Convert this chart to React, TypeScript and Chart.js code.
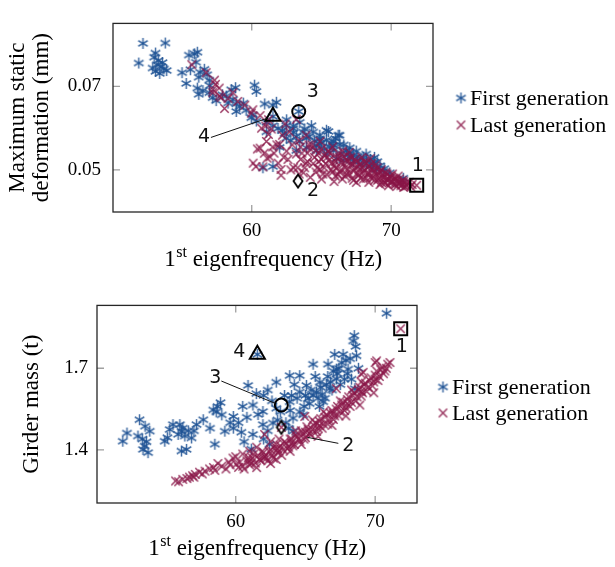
import React, { useEffect, useRef } from "react";
import { Chart, registerables } from "chart.js";
Chart.register(...registerables);

type Pt = [number, number];

// ---------- data ----------
const freqMin = 50.05;
const freqMax = 73;
const freqTicks = [60, 70];

const deformMin = 0.0399;
const deformMax = 0.0851;
const deformTicks = [0.05, 0.07];

const massMin = 1.205;
const massMax = 1.931;
const massTicks = [1.4, 1.7];

const legendLabels = ["First generation", "Last generation"];
const highlightLabels = ["1", "2", "3", "4"];

// top: 1st eigenfrequency (Hz) vs maximum static deformation (mm)
const deformFirstGen: Pt[] = [
  [52.2, 0.0803], [53.8, 0.0804], [51.9, 0.0756], [53.1, 0.078], [53.0, 0.077], [53.3, 0.0762],
  [53.2, 0.0752], [52.9, 0.0744], [53.5, 0.0748], [53.7, 0.0742], [53.1, 0.0736], [53.9, 0.0738],
  [53.4, 0.0731], [53.6, 0.0757], [55.0, 0.0733], [55.3, 0.0707], [55.5, 0.0775], [56.1, 0.0782],
  [55.9, 0.0778], [56.2, 0.0722], [56.6, 0.0741], [56.0, 0.0758], [56.95, 0.0715], [56.1, 0.0696],
  [56.2, 0.0681], [57.2, 0.0673], [56.3, 0.0734], [55.6, 0.074], [56.8, 0.0728], [57.0, 0.0702],
  [56.5, 0.069], [57.45, 0.0666], [56.97, 0.0685], [58.17, 0.0677], [58.65, 0.0669], [58.89, 0.0658],
  [59.13, 0.0651], [59.6, 0.0643], [60.08, 0.0632], [60.33, 0.0617], [58.89, 0.064], [58.53, 0.0692],
  [58.84, 0.0697], [57.9, 0.068], [58.3, 0.066], [59.4, 0.066], [60.2, 0.0703], [60.33, 0.0688],
  [60.93, 0.0658], [61.77, 0.0662], [61.52, 0.0655], [59.97, 0.0625], [61.05, 0.0614], [61.05, 0.0591],
  [61.52, 0.0606], [61.88, 0.0599], [62.36, 0.0587], [62.48, 0.0606], [62.96, 0.0599], [63.44, 0.0614],
  [63.2, 0.058], [63.68, 0.0591], [63.92, 0.0576], [64.4, 0.0591], [64.28, 0.0606], [63.44, 0.0568],
  [64.88, 0.0561], [65.36, 0.0572], [65.84, 0.0568], [66.32, 0.0561], [65.84, 0.0546], [66.8, 0.0546],
  [67.27, 0.0535], [67.03, 0.0553], [67.75, 0.0523], [68.23, 0.052], [68.71, 0.0516], [68.47, 0.0508],
  [68.95, 0.0501], [66.56, 0.0523], [66.08, 0.0527], [65.36, 0.0538], [64.64, 0.0546], [63.92, 0.0553],
  [63.2, 0.0546], [62.0, 0.0554], [61.52, 0.0508], [60.8, 0.0505], [65.5, 0.0592], [66.3, 0.0583],
  [70.87, 0.048], [69.43, 0.0497], [69.9, 0.0493], [64.88, 0.0583], [62.48, 0.0576], [63.37, 0.064],
  [61.52, 0.0628], [65.36, 0.0595], [66.2, 0.0583], [65.0, 0.0565], [65.6, 0.0555], [66.0, 0.0575],
  [66.6, 0.056], [67.0, 0.054], [67.5, 0.0545], [68.0, 0.053], [68.5, 0.0525], [69.2, 0.051],
  [69.5, 0.0503], [67.9, 0.0512], [67.3, 0.052], [64.5, 0.057], [64.1, 0.058], [63.0, 0.059],
  [62.8, 0.057], [62.2, 0.0595], [65.2, 0.055], [64.6, 0.0558], [66.4, 0.054], [65.9, 0.0558],
  [67.1, 0.0528], [68.8, 0.053], [69.0, 0.052], [68.2, 0.0538], [62.5, 0.062], [63.0, 0.0605],
  [63.8, 0.0598], [64.9, 0.0575], [65.7, 0.0563], [66.9, 0.0537], [67.6, 0.0532], [68.6, 0.0512],
];

const deformLastGen: Pt[] = [
  [55.7, 0.0752], [56.73, 0.0733], [57.33, 0.0715], [57.4, 0.0705], [57.2, 0.0685], [57.21, 0.0692],
  [57.67, 0.0696], [57.8, 0.0673], [57.69, 0.0677], [58.05, 0.0647], [58.65, 0.0685], [58.3, 0.0671],
  [59.0, 0.0664], [59.5, 0.0655], [59.97, 0.0636], [60.08, 0.0644], [60.6, 0.063], [61.2, 0.062],
  [61.0, 0.0605], [61.4, 0.0598], [60.7, 0.06], [61.2, 0.0585],
  [60.3, 0.0508], [60.1, 0.0516], [60.8, 0.0507], [60.4, 0.055], [60.6, 0.0552], [61.05, 0.0568],
  [61.1, 0.0528], [61.3, 0.0531], [61.6, 0.054], [61.8, 0.056], [61.9, 0.0516], [62.1, 0.0501],
  [62.1, 0.0487], [62.0, 0.0561], [62.2, 0.0583], [62.4, 0.061], [62.5, 0.0545], [62.6, 0.0525],
  [62.7, 0.0591], [62.9, 0.056], [63.0, 0.0505], [63.2, 0.0538], [63.2, 0.0621], [63.4, 0.057],
  [63.7, 0.0493], [63.9, 0.0583], [63.9, 0.0516], [64.2, 0.0482], [64.6, 0.0546], [64.9, 0.0501],
  [63.5, 0.0525], [64.0, 0.054], [63.3, 0.0505], [63.5, 0.0555], [64.1, 0.056],
  [64.3, 0.056], [64.5, 0.053], [64.8, 0.052], [64.9, 0.0568], [65.0, 0.055], [65.1, 0.049],
  [65.2, 0.0535], [64.7, 0.0505], [65.3, 0.0515], [65.0, 0.0478],
  [65.5, 0.0545], [65.6, 0.0525], [65.7, 0.05], [65.8, 0.0555], [65.9, 0.051], [66.0, 0.0485],
  [66.1, 0.053], [66.2, 0.054], [66.3, 0.0495], [66.4, 0.0518], [66.5, 0.0478], [65.9, 0.0472],
  [66.6, 0.0532], [66.7, 0.0505], [66.8, 0.049], [66.9, 0.052], [67.0, 0.0542], [67.1, 0.051],
  [67.2, 0.048], [67.3, 0.0497], [67.4, 0.0525], [67.5, 0.047], [67.6, 0.0508], [67.7, 0.0488],
  [67.8, 0.0515], [67.9, 0.053], [68.0, 0.0478],
  [68.1, 0.05], [68.2, 0.0515], [68.3, 0.049], [68.4, 0.047], [68.5, 0.0527], [68.6, 0.0505],
  [68.7, 0.0483], [68.8, 0.0495], [68.9, 0.0512], [69.0, 0.0475], [69.1, 0.049], [69.2, 0.0465],
  [69.3, 0.05], [69.4, 0.0482], [69.5, 0.047], [69.6, 0.0493], [69.7, 0.0476], [69.8, 0.0462],
  [69.9, 0.0485], [70.0, 0.0472],
  [70.1, 0.049], [70.2, 0.0466], [70.3, 0.0478], [70.4, 0.046], [70.5, 0.0485], [70.6, 0.047],
  [70.7, 0.0462], [70.8, 0.0475], [70.9, 0.0458], [71.0, 0.0468], [71.1, 0.0462], [71.3, 0.047],
  [71.5, 0.0465], [71.83, 0.0463],
  [64.2, 0.055], [64.4, 0.0515], [64.6, 0.0495], [64.8, 0.054], [65.0, 0.0525], [65.2, 0.0505],
  [65.4, 0.053], [65.4, 0.0488], [65.6, 0.054], [65.7, 0.0515], [65.8, 0.0495], [66.0, 0.052],
  [66.1, 0.0505], [66.2, 0.0488], [66.3, 0.053], [66.4, 0.05], [66.5, 0.0545], [66.6, 0.0515],
  [66.7, 0.0485], [66.8, 0.0525], [66.9, 0.05], [67.0, 0.049], [67.1, 0.053], [67.2, 0.0515],
  [67.3, 0.0475], [67.4, 0.0505], [67.5, 0.052], [67.6, 0.049], [67.7, 0.05], [67.8, 0.048],
  [67.9, 0.0505], [68.0, 0.0495], [68.1, 0.052], [68.2, 0.048], [68.3, 0.0505], [68.4, 0.0492],
  [68.5, 0.0482], [68.6, 0.0515], [68.7, 0.0498], [68.8, 0.0475], [68.9, 0.049], [69.0, 0.0505],
  [69.1, 0.0478], [69.2, 0.0495], [69.3, 0.047], [69.4, 0.049], [69.5, 0.0482], [69.6, 0.0468],
  [69.7, 0.049], [69.8, 0.0478], [69.9, 0.047], [70.0, 0.0482], [70.1, 0.0472], [70.2, 0.048],
  [70.3, 0.0465], [70.4, 0.0475], [70.5, 0.0468], [70.6, 0.0478], [70.7, 0.047], [70.8, 0.0465],
  [70.9, 0.0472], [71.0, 0.046], [71.2, 0.0467], [71.4, 0.046], [63.6, 0.054], [63.8, 0.0505],
  [64.0, 0.052], [63.4, 0.049], [62.8, 0.05], [62.3, 0.053], [61.5, 0.0555], [60.9, 0.054],
];

const deformHighlights: Pt[] = [
  [71.83, 0.0463], [63.32, 0.0473], [63.37, 0.064], [61.52, 0.0628],
];

// bottom: 1st eigenfrequency (Hz) vs girder mass (t)
const massFirstGen: Pt[] = [
  [51.9, 1.432], [52.2, 1.462], [53.1, 1.511], [53.5, 1.487], [52.99, 1.451], [53.83, 1.469],
  [53.47, 1.414], [53.71, 1.39], [53.35, 1.402], [53.3, 1.44], [53.6, 1.43], [54.91, 1.432],
  [55.27, 1.475], [56.11, 1.469], [55.99, 1.493], [56.35, 1.451], [56.83, 1.444], [56.11, 1.396],
  [56.47, 1.402], [57.19, 1.493], [57.67, 1.511], [58.39, 1.547], [58.91, 1.574], [58.5, 1.421],
  [59.22, 1.469], [59.83, 1.523], [59.83, 1.48], [58.15, 1.48], [59.0, 1.529], [55.5, 1.493],
  [55.87, 1.457], [56.2, 1.48], [56.6, 1.47], [55.1, 1.445], [57.0, 1.47], [58.6, 1.54],
  [58.7, 1.56], [59.6, 1.5], [60.2, 1.5], [60.4, 1.465],
  [60.88, 1.637], [61.48, 1.607], [62.91, 1.649], [63.87, 1.673], [64.59, 1.673], [65.55, 1.715],
  [66.62, 1.715], [67.1, 1.751], [68.42, 1.8], [68.66, 1.746], [70.82, 1.902], [67.7, 1.751],
  [67.22, 1.697], [68.06, 1.697], [68.54, 1.625], [65.79, 1.613], [65.19, 1.589], [66.27, 1.577],
  [63.87, 1.577], [62.91, 1.553], [61.95, 1.541], [61.23, 1.565], [62.67, 1.499], [61.95, 1.493],
  [61.23, 1.457], [61.12, 1.403], [62.43, 1.421], [64.11, 1.517], [64.83, 1.529], [64.11, 1.469],
  [66.75, 1.625], [67.22, 1.661], [66.03, 1.649], [65.07, 1.637], [64.59, 1.613],
  [65.55, 1.601], [65.9, 1.59], [66.2, 1.605], [66.5, 1.64], [66.8, 1.65], [67.0, 1.69],
  [67.4, 1.7], [67.6, 1.72], [67.9, 1.73], [68.2, 1.735], [68.0, 1.68], [67.5, 1.64],
  [66.9, 1.62], [66.0, 1.56], [65.3, 1.57], [64.9, 1.56], [64.6, 1.54], [63.5, 1.6],
  [63.2, 1.54], [62.6, 1.58], [62.0, 1.6], [63.0, 1.51], [63.6, 1.5], [62.3, 1.47],
  [62.0, 1.44], [63.8, 1.48], [68.8, 1.7], [68.3, 1.66], [65.7, 1.67], [64.2, 1.64],
  [62.3, 1.62], [60.5, 1.56], [60.8, 1.52], [63.9, 1.545], [65.0, 1.6], [66.4, 1.59],
  [67.8, 1.66], [68.6, 1.78], [68.5, 1.82], [61.6, 1.53], [60.6, 1.43], [61.55, 1.751],
  [65.4, 1.62], [66.1, 1.63], [64.4, 1.59], [67.3, 1.68], [66.6, 1.67], [64.0, 1.6],
];

const massLastGen: Pt[] = [
  [55.68, 1.286], [55.9, 1.283], [56.2, 1.292], [56.68, 1.3], [56.9, 1.305], [57.1, 1.31],
  [57.4, 1.318], [57.6, 1.312], [58.12, 1.33], [58.4, 1.335], [58.72, 1.35], [60.04, 1.348],
  [60.2, 1.336], [60.5, 1.34], [60.8, 1.36], [61.0, 1.345], [61.2, 1.37], [61.4, 1.352],
  [61.6, 1.38], [61.8, 1.362], [62.0, 1.39], [62.07, 1.457], [62.2, 1.37], [62.4, 1.395],
  [62.6, 1.38], [62.8, 1.405], [63.0, 1.39], [63.2, 1.415], [63.4, 1.4], [63.6, 1.425],
  [63.8, 1.41], [64.0, 1.44], [64.2, 1.42], [64.4, 1.45], [64.6, 1.432], [64.8, 1.462],
  [64.95, 1.523], [65.0, 1.445], [65.2, 1.475], [65.4, 1.455], [65.6, 1.49], [65.8, 1.468],
  [66.0, 1.505], [66.2, 1.48], [66.4, 1.52], [66.6, 1.495], [66.8, 1.535], [67.0, 1.512],
  [67.22, 1.625], [67.2, 1.55], [67.4, 1.525], [67.6, 1.565], [67.8, 1.545], [68.0, 1.585],
  [68.2, 1.56], [68.4, 1.6], [68.6, 1.58], [68.8, 1.62], [69.0, 1.598], [69.14, 1.685],
  [69.2, 1.64], [69.4, 1.615], [69.6, 1.655], [69.8, 1.635], [70.0, 1.675], [70.1, 1.727],
  [70.2, 1.655], [70.4, 1.695], [70.6, 1.68], [70.8, 1.7], [71.06, 1.721], [71.83, 1.845],
  [61.0, 1.395], [61.5, 1.41], [62.5, 1.43], [63.1, 1.44], [60.0, 1.375], [59.5, 1.355],
  [59.8, 1.37], [60.5, 1.385], [64.3, 1.47], [65.5, 1.51], [66.3, 1.54], [67.5, 1.58],
  [68.3, 1.62], [69.0, 1.65], [62.9, 1.365], [63.9, 1.395], [64.7, 1.42], [65.9, 1.45],
  [66.9, 1.49], [67.9, 1.525], [68.9, 1.565], [69.9, 1.61], [63.27, 1.483], [62.5, 1.35],
  [61.5, 1.335], [69.0, 1.679], [70.0, 1.721],
  [56.5, 1.295], [57.0, 1.3], [57.8, 1.322], [58.5, 1.325], [59.0, 1.34], [59.3, 1.33],
  [59.6, 1.345], [60.3, 1.355], [60.6, 1.33], [60.9, 1.372], [61.1, 1.35], [61.3, 1.385],
  [61.7, 1.365], [61.9, 1.395], [62.1, 1.375], [62.3, 1.36], [62.5, 1.4], [62.7, 1.37],
  [62.9, 1.42], [63.1, 1.395], [63.3, 1.38], [63.5, 1.43], [63.7, 1.405], [63.9, 1.44],
  [64.1, 1.415], [64.3, 1.455], [64.5, 1.44], [64.7, 1.47], [64.9, 1.44], [65.1, 1.485],
  [65.3, 1.46], [65.5, 1.475], [65.7, 1.5], [65.9, 1.48], [66.1, 1.515], [66.3, 1.495],
  [66.5, 1.53], [66.7, 1.51], [66.9, 1.545], [67.1, 1.525], [67.3, 1.56], [67.5, 1.54],
  [67.7, 1.575], [67.9, 1.555], [68.1, 1.595], [68.3, 1.575], [68.5, 1.61], [68.7, 1.595],
  [68.9, 1.63], [69.1, 1.61], [69.3, 1.645], [69.5, 1.63], [69.7, 1.665], [69.9, 1.65],
  [70.1, 1.69], [70.3, 1.67], [70.5, 1.705], [70.7, 1.69], [70.9, 1.715], [64.0, 1.425],
  [65.0, 1.465], [66.0, 1.49], [67.0, 1.535], [68.0, 1.57], [69.0, 1.615], [70.0, 1.66],
  [63.0, 1.405], [62.0, 1.37], [61.0, 1.36],
];

const massHighlights: Pt[] = [
  [71.83, 1.845], [63.27, 1.483], [63.27, 1.565], [61.55, 1.751],
];

// ---------- styles ----------
const BLUE = "rgba(30,82,148,0.85)";
const RED = "rgba(138,22,72,0.85)";
const SERIF = "'Liberation Serif', serif";
const SANS = "'DejaVu Sans', sans-serif";
const W = 615;

function makeAsterisk(color: string, r: number, lw: number) {
  const size = 2 * Math.ceil(r) + 3;
  const c = document.createElement("canvas");
  c.width = size;
  c.height = size;
  const ctx = c.getContext("2d")!;
  ctx.strokeStyle = color;
  ctx.lineWidth = lw;
  const cx = size / 2, cy = size / 2;
  for (const a of [90, 30, 150]) {
    const rad = (a * Math.PI) / 180;
    ctx.beginPath();
    ctx.moveTo(cx - r * Math.cos(rad), cy - r * Math.sin(rad));
    ctx.lineTo(cx + r * Math.cos(rad), cy + r * Math.sin(rad));
    ctx.stroke();
  }
  return c;
}

function makeCross(color: string, r: number, lw: number) {
  const size = 2 * Math.ceil(r) + 3;
  const c = document.createElement("canvas");
  c.width = size;
  c.height = size;
  const ctx = c.getContext("2d")!;
  ctx.strokeStyle = color;
  ctx.lineWidth = lw;
  const cx = size / 2, cy = size / 2;
  ctx.beginPath();
  ctx.moveTo(cx - r, cy - r);
  ctx.lineTo(cx + r, cy + r);
  ctx.moveTo(cx - r, cy + r);
  ctx.lineTo(cx + r, cy - r);
  ctx.stroke();
  return c;
}

function makeDiamond(fill: string) {
  const w = 12, h = 16;
  const c = document.createElement("canvas");
  c.width = w;
  c.height = h;
  const ctx = c.getContext("2d")!;
  ctx.beginPath();
  ctx.moveTo(w / 2, 1.5);
  ctx.lineTo(w - 1.5, h / 2);
  ctx.lineTo(w / 2, h - 1.5);
  ctx.lineTo(1.5, h / 2);
  ctx.closePath();
  ctx.fillStyle = fill;
  ctx.fill();
  ctx.strokeStyle = "#000";
  ctx.lineWidth = 1.8;
  ctx.stroke();
  return c;
}

type Spec = {
  first: Pt[];
  last: Pt[];
  highlights: Pt[];
  yMin: number;
  yMax: number;
  yTicks: number[];
  yDecimals: number;
  height: number;
  area: { left: number; right: number; top: number; bottom: number };
  yTickPad: number;
  yTitle: string[];
  yTitleX: number[];
  xTitleGap: number;
  legendX: number;
  legendY: number[];
  labelOffsets: [number, number][];
  leaders: ([number, number, number, number] | null)[];
  diamondFill: string;
};

const topSpec: Spec = {
  first: deformFirstGen,
  last: deformLastGen,
  highlights: deformHighlights,
  yMin: deformMin,
  yMax: deformMax,
  yTicks: deformTicks,
  yDecimals: 2,
  height: 285,
  area: { left: 113, right: 433, top: 11, bottom: 212 },
  yTickPad: 12,
  yTitle: ["Maximum static", "deformation (mm)"],
  yTitleX: [18, 42],
  xTitleGap: 54,
  legendX: 461,
  legendY: [98, 125],
  labelOffsets: [[1, -19], [15, 10], [14, -19], [-69, 21]],
  leaders: [null, null, null, [-62, 21, -6, 2]],
  diamondFill: "#fff",
};

const bottomSpec: Spec = {
  first: massFirstGen,
  last: massLastGen,
  highlights: massHighlights,
  yMin: massMin,
  yMax: massMax,
  yTicks: massTicks,
  yDecimals: 1,
  height: 282,
  area: { left: 97, right: 417, top: 17, bottom: 218 },
  yTickPad: 9,
  yTitle: ["Girder mass (t)"],
  yTitleX: [32],
  xTitleGap: 52,
  legendX: 443,
  legendY: [102, 128],
  labelOffsets: [[1, 18], [67, 19], [-66, -27], [-18, -2]],
  leaders: [null, [57, 16, 26, 10], [-60, -24, -7, -2], null],
  diamondFill: "rgba(255,255,255,0)",
};

function decorPlugin(s: Spec, star: HTMLCanvasElement, cross: HTMLCanvasElement) {
  return {
    id: "decor",
    afterDraw(chart: any) {
      const { ctx, chartArea: a } = chart;
      const xs = chart.scales.x, ys = chart.scales.y;
      ctx.save();
      // inward tick marks on all four sides
      ctx.strokeStyle = "#a0a0a0";
      ctx.lineWidth = 1.3;
      const tl = 7;
      for (const v of freqTicks) {
        const px = xs.getPixelForValue(v);
        ctx.beginPath();
        ctx.moveTo(px, a.bottom);
        ctx.lineTo(px, a.bottom - tl);
        ctx.moveTo(px, a.top);
        ctx.lineTo(px, a.top + tl);
        ctx.stroke();
      }
      for (const v of s.yTicks) {
        const py = ys.getPixelForValue(v);
        ctx.beginPath();
        ctx.moveTo(a.left, py);
        ctx.lineTo(a.left + tl, py);
        ctx.moveTo(a.right, py);
        ctx.lineTo(a.right - tl, py);
        ctx.stroke();
      }
      // frame
      ctx.strokeStyle = "#262626";
      ctx.lineWidth = 1.3;
      ctx.strokeRect(a.left, a.top, a.right - a.left, a.bottom - a.top);

      // highlight labels and leader lines
      ctx.fillStyle = "#111";
      ctx.font = `19px ${SANS}`;
      ctx.textAlign = "center";
      ctx.textBaseline = "middle";
      s.highlights.forEach(([hx, hy], i) => {
        const mx = xs.getPixelForValue(hx);
        const my = ys.getPixelForValue(hy);
        const [dx, dy] = s.labelOffsets[i];
        ctx.fillText(highlightLabels[i], mx + dx, my + dy);
        const l = s.leaders[i];
        if (l) {
          ctx.strokeStyle = "#111";
          ctx.lineWidth = 1;
          ctx.beginPath();
          ctx.moveTo(mx + l[0], my + l[1]);
          ctx.lineTo(mx + l[2], my + l[3]);
          ctx.stroke();
        }
      });

      // x title with superscript
      ctx.fillStyle = "#000";
      ctx.textAlign = "left";
      ctx.textBaseline = "alphabetic";
      const big = `23px ${SERIF}`;
      const small = `16px ${SERIF}`;
      ctx.font = big;
      const w1 = ctx.measureText("1").width;
      const w3 = ctx.measureText(" eigenfrequency (Hz)").width;
      ctx.font = small;
      const w2 = ctx.measureText("st").width;
      const cx = (a.left + a.right) / 2;
      const x0 = cx - (w1 + w2 + w3) / 2;
      const by = a.bottom + s.xTitleGap;
      ctx.font = big;
      ctx.fillText("1", x0, by);
      ctx.font = small;
      ctx.fillText("st", x0 + w1 + 0.5, by - 9);
      ctx.font = big;
      ctx.fillText(" eigenfrequency (Hz)", x0 + w1 + w2 + 0.5, by);

      // y title (rotated)
      const cy = (a.top + a.bottom) / 2;
      ctx.font = `23px ${SERIF}`;
      ctx.textAlign = "center";
      ctx.textBaseline = "middle";
      s.yTitle.forEach((line, i) => {
        ctx.save();
        ctx.translate(s.yTitleX[i], cy);
        ctx.rotate(-Math.PI / 2);
        ctx.fillText(line, 0, 0);
        ctx.restore();
      });

      // legend
      const imgs = [star, cross];
      ctx.textAlign = "left";
      ctx.font = `22px ${SERIF}`;
      legendLabels.forEach((lab, i) => {
        const img = imgs[i];
        const ly = s.legendY[i];
        ctx.drawImage(img, s.legendX - img.width / 2, ly - img.height / 2);
        ctx.fillStyle = "#000";
        ctx.fillText(lab, s.legendX + 9, ly + 1);
      });
      ctx.restore();
    },
  };
}

function buildChart(canvas: HTMLCanvasElement, s: Spec) {
  const star = makeAsterisk(BLUE, 5.5, 1.5);
  const cross = makeCross(RED, 4.2, 1.5);
  const diamond = makeDiamond(s.diamondFill);
  return new Chart(canvas, {
    type: "scatter",
    data: {
      datasets: [
        {
          label: "Highlights",
          data: s.highlights.map(([x, y]) => ({ x, y })),
          pointStyle: ["rect", diamond, "circle", "triangle"] as any,
          pointRadius: [9.2, 7, 6.5, 8.7],
          borderColor: "#000",
          borderWidth: 2,
          backgroundColor: "rgba(0,0,0,0)",
          clip: false as any,
        },
        {
          label: legendLabels[1],
          data: s.last.map(([x, y]) => ({ x, y })),
          pointStyle: cross as any,
          pointRadius: 4,
        },
        {
          label: legendLabels[0],
          data: s.first.map(([x, y]) => ({ x, y })),
          pointStyle: star as any,
          pointRadius: 5,
        },
      ],
    },
    options: {
      responsive: false,
      animation: false,
      devicePixelRatio: 1,
      events: [],
      layout: { padding: { left: 0, top: s.area.top, right: W - s.area.right, bottom: 0 } },
      plugins: { legend: { display: false }, tooltip: { enabled: false } },
      scales: {
        x: {
          type: "linear",
          position: "bottom",
          min: freqMin,
          max: freqMax,
          afterBuildTicks: (sc: any) => {
            sc.ticks = freqTicks.map((v) => ({ value: v }));
          },
          afterFit: (sc: any) => {
            sc.height = s.height - s.area.bottom;
          },
          grid: { display: false, drawTicks: false },
          border: { display: false },
          ticks: { color: "#000", font: { family: SERIF, size: 19 }, padding: 8 },
        },
        y: {
          type: "linear",
          position: "left",
          min: s.yMin,
          max: s.yMax,
          afterBuildTicks: (sc: any) => {
            sc.ticks = s.yTicks.map((v) => ({ value: v }));
          },
          afterFit: (sc: any) => {
            sc.width = s.area.left;
          },
          grid: { display: false, drawTicks: false },
          border: { display: false },
          ticks: {
            color: "#000",
            font: { family: SERIF, size: 19 },
            padding: s.yTickPad,
            callback: (v: any) => Number(v).toFixed(s.yDecimals),
          },
        },
      },
    } as any,
    plugins: [decorPlugin(s, star, cross)],
  });
}

export default function App() {
  const topRef = useRef<HTMLCanvasElement>(null);
  const botRef = useRef<HTMLCanvasElement>(null);
  useEffect(() => {
    const c1 = buildChart(topRef.current!, topSpec);
    const c2 = buildChart(botRef.current!, bottomSpec);
    return () => {
      c1.destroy();
      c2.destroy();
    };
  }, []);
  return (
    <div style={{ position: "absolute", left: 0, top: 0, width: 615, height: 567, background: "#fff" }}>
      <canvas ref={topRef} width={615} height={285} style={{ position: "absolute", left: 0, top: 0 }} />
      <canvas ref={botRef} width={615} height={282} style={{ position: "absolute", left: 0, top: 285 }} />
    </div>
  );
}
